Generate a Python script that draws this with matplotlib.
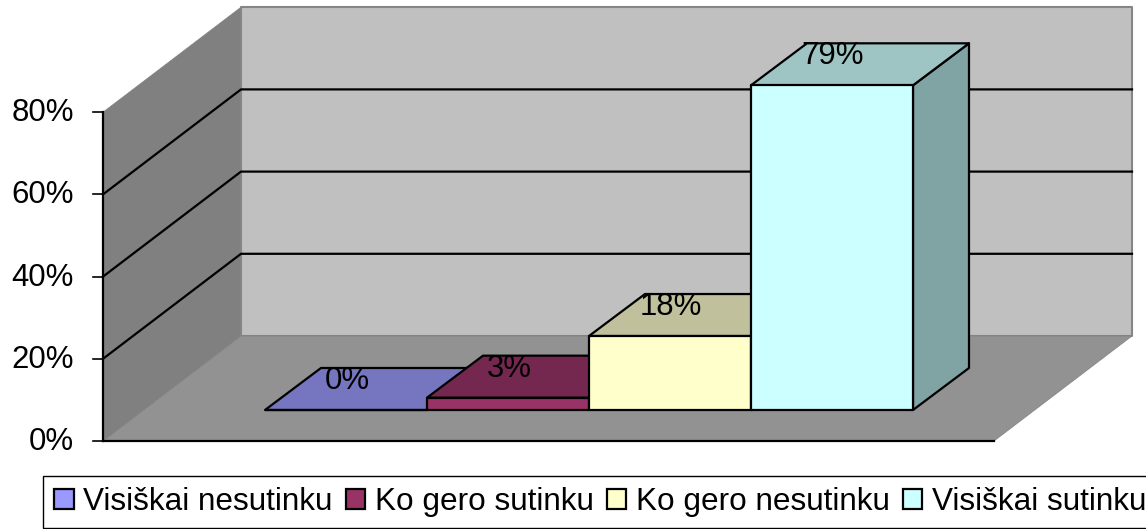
import matplotlib
matplotlib.use('Agg')
import matplotlib.pyplot as plt
from matplotlib.patches import Polygon, Patch

plt.rcParams['font.family'] = ['Liberation Sans', 'DejaVu Sans']

categories = ['Visiškai nesutinku', 'Ko gero sutinku', 'Ko gero nesutinku', 'Visiškai sutinku']
values = [0, 3, 18, 79]
labels = ['0%', '3%', '18%', '79%']
ticks = [0, 20, 40, 60, 80]
tick_labels = ['0%', '20%', '40%', '60%', '80%']

front_colors = ['#9999FF', '#993366', '#FFFFCC', '#CCFFFF']
top_colors = ['#7575C0', '#75284F', '#C0C09C', '#9EC4C4']
side_colors = ['#7575C0', '#75284F', '#C0C09C', '#80A4A4']

W, H = 1146, 529
PX_X = 162.0   # pixels per category
PX_Y = 4.11    # pixels per percent

# oblique projection, in data units
WALL_DX, WALL_DY = 138 / PX_X, 105 / PX_Y
BAR_DX, BAR_DY = 56 / PX_X, 42 / PX_Y
BASE_Y = 31 / PX_Y   # front of the bars above the front of the floor
LEFT, RIGHT = -1.0, (994 - 265) / PX_X

fig = plt.figure(figsize=(W / 100, H / 100), dpi=100)
ax = fig.add_axes([0, 0, 1, 1])
ax.set_xlim(-265 / PX_X, (W - 265) / PX_X)
ax.set_ylim(-(H - 441) / PX_Y, 441 / PX_Y)
ax.axis('off')


def poly(pts, fc, ec='black', lw=1.6, z=2):
    ax.add_patch(Polygon(pts, closed=True, facecolor=fc, edgecolor=ec, linewidth=lw,
                         joinstyle='round', zorder=z))


# walls and floor
top = ticks[-1]
poly([(LEFT, 0), (LEFT + WALL_DX, WALL_DY), (LEFT + WALL_DX, WALL_DY + top), (LEFT, top)],
     '#808080', ec='#808080', lw=0.5, z=1)
poly([(LEFT + WALL_DX, WALL_DY), (RIGHT + WALL_DX, WALL_DY),
      (RIGHT + WALL_DX, WALL_DY + top), (LEFT + WALL_DX, WALL_DY + top)],
     '#C0C0C0', ec='#858585', lw=1.5, z=1)
poly([(LEFT, 0), (RIGHT, 0), (RIGHT + WALL_DX, WALL_DY), (LEFT + WALL_DX, WALL_DY)],
     '#929292', ec='#808080', lw=0.5, z=1)

# gridlines run along the left wall and the back wall
for t in ticks[1:-1]:
    ax.plot([LEFT, LEFT + WALL_DX, RIGHT + WALL_DX],
            [t, t + WALL_DY, t + WALL_DY], color='black', lw=1.6, zorder=1.5)

# axis lines and ticks
ax.plot([LEFT, LEFT], [0, top], color='black', lw=1.6, zorder=3)
ax.plot([LEFT, RIGHT], [0, 0], color='black', lw=1.6, zorder=3)
for t, s in zip(ticks, tick_labels):
    ax.plot([LEFT - 10 / PX_X, LEFT], [t, t], color='black', lw=1.2, zorder=3)
    ax.text(LEFT - 29 / PX_X, t - 1 / PX_Y, s, ha='right', va='center', fontsize=22.4)

# bars
for i, v in enumerate(values):
    y0, y1 = BASE_Y, BASE_Y + v
    poly([(i + 1, y0), (i + 1 + BAR_DX, y0 + BAR_DY), (i + 1 + BAR_DX, y1 + BAR_DY), (i + 1, y1)],
         side_colors[i], z=2 + i * 0.1)
    poly([(i, y0), (i + 1, y0), (i + 1, y1), (i, y1)], front_colors[i], z=2 + i * 0.1 + 0.02)
    poly([(i, y1), (i + 1, y1), (i + 1 + BAR_DX, y1 + BAR_DY), (i + BAR_DX, y1 + BAR_DY)],
         top_colors[i], z=2 + i * 0.1 + 0.01)
    ax.text(i + 0.5 + 1 / PX_X, y1 + 29 / PX_Y, labels[i], ha='center', va='center',
            fontsize=22.4, color='black', zorder=4)

handles = [Patch(facecolor=c, edgecolor='black', linewidth=1.6) for c in front_colors]
leg = ax.legend(handles, categories, ncol=4, loc='lower left',
                bbox_to_anchor=(43 / W, 1 / H), bbox_transform=fig.transFigure,
                fontsize=22.7, frameon=True, fancybox=False, framealpha=1,
                edgecolor='black', handlelength=0.62, handleheight=0.62,
                handletextpad=0.3, columnspacing=0.42, borderpad=0.35, borderaxespad=0)
leg.get_frame().set_linewidth(1.0)
leg.set_zorder(5)

fig.savefig('out.png', dpi=100)
